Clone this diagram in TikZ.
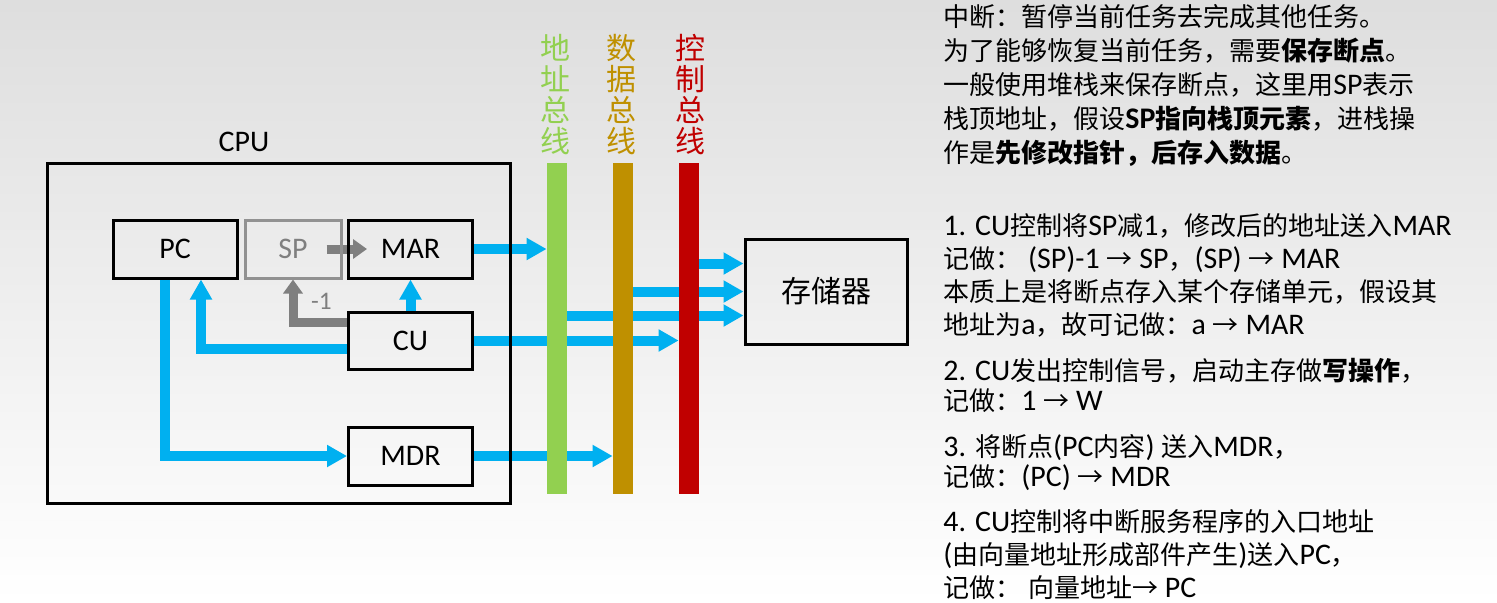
\documentclass[tikz,border=0pt]{standalone}
\usepackage{fontspec}
\setmainfont{Carlito}[Scale=1.15]
\newfontfamily\cjk{Noto Sans CJK SC}
\usetikzlibrary{arrows.meta}
\definecolor{flowblue}{RGB}{0,176,240}
\definecolor{addrgreen}{RGB}{146,208,80}
\definecolor{databrown}{RGB}{191,144,0}
\definecolor{ctrlred}{RGB}{192,0,0}
\definecolor{spgray}{RGB}{127,127,127}
\definecolor{spline}{RGB}{145,145,145}

% switch to the CJK family for Chinese characters
\XeTeXinterchartokenstate=1
\newXeTeXintercharclass\cjkclass
\newcount\cjkcnt
\cjkcnt="3000
\loop\XeTeXcharclass\cjkcnt=\cjkclass \advance\cjkcnt by 1 \ifnum\cjkcnt<"A000 \repeat
\cjkcnt="FF00
\loop\XeTeXcharclass\cjkcnt=\cjkclass \advance\cjkcnt by 1 \ifnum\cjkcnt<"FFF0 \repeat
\XeTeXcharclass"2192=\cjkclass
\XeTeXinterchartoks 0 \cjkclass = {\cjk}
\XeTeXinterchartoks 4095 \cjkclass = {\cjk}
\XeTeXinterchartoks \cjkclass 0 = {\rmfamily}
\XeTeXinterchartoks \cjkclass 4095 = {\rmfamily}

\pgfdeclarelayer{back}
\pgfdeclarelayer{flow}
\pgfsetlayers{back,flow,main}

\tikzset{
  box/.style={draw, line width=1.5pt, minimum width=62pt, minimum height=29pt, inner sep=0pt, font=\fontsize{13}{16}\selectfont},
  bus/.style={inner sep=0pt, minimum width=10pt, minimum height=165.5pt},
  busname/.style={align=center, inner sep=0pt, font=\fontsize{15}{15.5}\selectfont},
  bluearrow/.style={flowblue, line width=5pt, -{Triangle[length=10pt, width=10.5pt]}},
  grayarrow/.style={spgray, line width=4.5pt, -{Triangle[length=7pt, width=9.5pt]}},
  note/.style={anchor=west, align=left, inner sep=0pt}
}

\begin{document}
\begin{tikzpicture}[x=0.5pt, y=-0.5pt]
  \useasboundingbox (0,0) rectangle (1497,602);
  \begin{pgfonlayer}{back}
    \shade[top color=black!13, bottom color=white] (0,0) rectangle (1497,602);
  \end{pgfonlayer}

  % CPU and its registers
  \node[draw, line width=1.5pt, minimum width=231.5pt, minimum height=170pt, inner sep=0pt] (cpu) at (278.5,333) {};
  \node[font=\fontsize{13}{16}\selectfont] (cpuname) at (244,142) {CPU};
  \node[box] (pc) at (175,249) {PC};
  \node[box, draw=spline, text=spgray, minimum width=48pt] (sp) at (293,249) {SP};
  \node[box] (mar) at (410.5,249) {MAR};
  \node[box, minimum height=28.5pt] (cu) at (410.5,340.5) {CU};
  \node[box] (mdr) at (410.5,456) {MDR};
  \node[box, minimum width=81pt, minimum height=52.5pt, font=\fontsize{15}{18}\selectfont] (mem) at (826,291.5) {存储器};

  % buses
  \node[bus, fill=addrgreen] (abus) at (557,328.5) {};
  \node[bus, fill=databrown] (dbus) at (623,328.5) {};
  \node[bus, fill=ctrlred] (cbus) at (689,328.5) {};
  \node[busname, text=addrgreen] (aname) at (555,95) {地\\址\\总\\线};
  \node[busname, text=databrown] (dname) at (621,95) {数\\据\\总\\线};
  \node[busname, text=ctrlred] (cname) at (690,95) {控\\制\\总\\线};

  \begin{pgfonlayer}{flow}
    \draw[bluearrow] (mar.east) -- (mar.east -| abus.west);
    \draw[bluearrow] (cu.east) -- (cu.east -| cbus.west);
    \draw[bluearrow] (mdr.east) -- (mdr.east -| dbus.west);
    \draw[bluearrow] ([xshift=-5pt]pc.south) |- (mdr.west);
    \draw[bluearrow] ([yshift=-4pt]cu.west) -| ([xshift=13pt]pc.south);
    \draw[bluearrow] (cu.north) -- (mar.south);
    \draw[grayarrow] ([yshift=9pt]cu.west) -| (sp.south)
      node[pos=0.75, right, xshift=3pt, text=spgray, font=\fontsize{11}{13}\selectfont] (minus) {-1};
    \draw[grayarrow] ([xshift=-8pt]sp.east) -- ([xshift=10pt]mar.west);
    \coordinate (m1) at ([yshift=14pt]mem.west);
    \coordinate (m3) at ([yshift=-12pt]mem.west);
    \draw[bluearrow] (m1 -| cbus.east) -- (m1);
    \draw[bluearrow] (mem.west -| dbus.east) -- (mem.west);
    \draw[bluearrow] (m3 -| abus.east) -- (m3);
  \end{pgfonlayer}

  % explanation
  \node[note, font=\fontsize{13}{17}\selectfont] (intro) at (943,85) {中断：暂停当前任务去完成其他任务。\\为了能够恢复当前任务，需要\textbf{保存断点}。\\一般使用堆栈来保存断点，这里用SP表示\\栈顶地址，假设\textbf{SP指向栈顶元素}，进栈操\\作是\textbf{先修改指针，后存入数据}。};
  \node[note, font=\fontsize{13}{16.5}\selectfont] (step1) at (943,275) {1. CU控制将SP减1，修改后的地址送入MAR\\记做： (SP)-1 → SP，(SP) → MAR\\本质上是将断点存入某个存储单元，假设其\\地址为a，故可记做：a → MAR};
  \node[note, font=\fontsize{13}{15}\selectfont] (step2) at (943,385) {2. CU发出控制信号，启动主存做\textbf{写操作}，\\记做：1 → W};
  \node[note, font=\fontsize{13}{15}\selectfont] (step3) at (943,463) {3. 将断点(PC内容) 送入MDR，\\记做：(PC) → MDR};
  \node[note, font=\fontsize{13}{16.5}\selectfont] (step4) at (943,554.5) {4. CU控制将中断服务程序的入口地址\\(由向量地址形成部件产生)送入PC，\\记做： 向量地址→ PC};
\end{tikzpicture}
\end{document}
